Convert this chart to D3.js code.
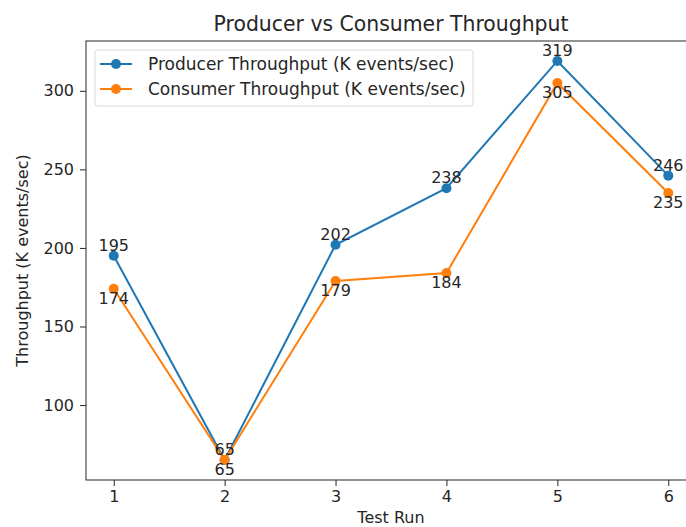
<!DOCTYPE html>
<html>
<head>
<meta charset="utf-8">
<script src="https://cdn.jsdelivr.net/npm/d3@7"></script>
<style>
	body { margin: 0; background: #fff; }
	svg { display: block; }
	text { font-family: "DejaVu Sans", sans-serif; fill: #262626; }
	.axis path, .axis line { stroke: #262626; }
</style>
</head>
<body>
<div id="chart"></div>
<script>

// data
const runs = [1, 2, 3, 4, 5, 6];
const producer = [195, 65, 202, 238, 319, 246];
const consumer = [174, 65, 179, 184, 305, 235];
const yTicks = [100, 150, 200, 250, 300];
const seriesNames = ["Producer Throughput (K events/sec)", "Consumer Throughput (K events/sec)"];
const seriesColors = ["#1f77b4", "#ff7f0e"];

const W = 686, H = 527;
const margin = {top: 41, right: -10, bottom: 47, left: 86};
const width = W - margin.left - margin.right;
const height = H - margin.top - margin.bottom;
const fs = "16px";

const svg = d3.select("#chart").append("svg")
	.attr("width", W)
	.attr("height", H);

const g = svg.append("g")
	.attr("transform", "translate(" + margin.left + "," + margin.top + ")");

// matplotlib style 5% padding on both axes
const xMin = d3.min(runs), xMax = d3.max(runs);
const xPad = (xMax - xMin) * 0.05;
const x = d3.scaleLinear()
	.domain([xMin - xPad, xMax + xPad])
	.range([0, width]);

const all = producer.concat(consumer);
const yMin = d3.min(all), yMax = d3.max(all);
const yPad = (yMax - yMin) * 0.05;
const y = d3.scaleLinear()
	.domain([yMin - yPad, yMax + yPad])
	.range([height, 0]);

// frame
g.append("rect")
	.attr("width", width)
	.attr("height", height)
	.attr("fill", "none")
	.attr("stroke", "#262626")
	.attr("stroke-width", 1);

// axes
const xAxis = g.append("g")
	.attr("class", "axis")
	.attr("transform", "translate(0," + height + ")")
	.call(d3.axisBottom(x).tickValues(runs).tickSize(6).tickPadding(5).tickFormat(d3.format("d")));

const yAxis = g.append("g")
	.attr("class", "axis")
	.call(d3.axisLeft(y).tickValues(yTicks).tickSize(6).tickPadding(6));

[xAxis, yAxis].forEach(function(a) {
	a.select(".domain").remove();
	a.selectAll("text").style("font-size", fs).attr("fill", "#262626");
});

// series
const series = [producer, consumer];
const line = d3.line()
	.x(function(d, i) { return x(runs[i]); })
	.y(function(d) { return y(d); });

series.forEach(function(vals, s) {
	g.append("path")
		.datum(vals)
		.attr("d", line)
		.attr("fill", "none")
		.attr("stroke", seriesColors[s])
		.attr("stroke-width", 2);

	g.selectAll(".dot" + s)
		.data(vals)
		.enter().append("circle")
		.attr("cx", function(d, i) { return x(runs[i]); })
		.attr("cy", function(d) { return y(d); })
		.attr("r", 5)
		.attr("fill", seriesColors[s]);
});

// value labels: producer above, consumer below
g.selectAll(".plabel")
	.data(producer)
	.enter().append("text")
	.attr("x", function(d, i) { return x(runs[i]); })
	.attr("y", function(d) { return y(d) - 5; })
	.attr("text-anchor", "middle")
	.style("font-size", fs)
	.text(function(d) { return d; });

g.selectAll(".clabel")
	.data(consumer)
	.enter().append("text")
	.attr("x", function(d, i) { return x(runs[i]); })
	.attr("y", function(d) { return y(d) + 15; })
	.attr("text-anchor", "middle")
	.style("font-size", fs)
	.text(function(d) { return d; });

// legend
const legend = g.append("g").attr("transform", "translate(9,9)");
legend.append("rect")
	.attr("width", 378)
	.attr("height", 56)
	.attr("rx", 3)
	.attr("fill", "#fff")
	.attr("fill-opacity", 0.8)
	.attr("stroke", "#d8d8d8");

seriesNames.forEach(function(name, i) {
	const ly = 14 + i * 25;
	legend.append("line")
		.attr("x1", 5).attr("x2", 37)
		.attr("y1", ly).attr("y2", ly)
		.attr("stroke", seriesColors[i])
		.attr("stroke-width", 2);
	legend.append("circle")
		.attr("cx", 21).attr("cy", ly)
		.attr("r", 5)
		.attr("fill", seriesColors[i]);
	legend.append("text")
		.attr("x", 53)
		.attr("y", ly)
		.attr("dy", "0.35em")
		.style("font-size", "17px")
		.text(name);
});

// title and axis labels
svg.append("text")
	.attr("x", margin.left + width / 2)
	.attr("y", 31)
	.attr("text-anchor", "middle")
	.style("font-size", "20.4px")
	.text("Producer vs Consumer Throughput");

svg.append("text")
	.attr("x", margin.left + width / 2)
	.attr("y", 523)
	.attr("text-anchor", "middle")
	.style("font-size", fs)
	.text("Test Run");

svg.append("text")
	.attr("transform", "translate(28," + (margin.top + height / 2) + ") rotate(-90)")
	.attr("text-anchor", "middle")
	.style("font-size", fs)
	.text("Throughput (K events/sec)");

</script>
</body>
</html>
